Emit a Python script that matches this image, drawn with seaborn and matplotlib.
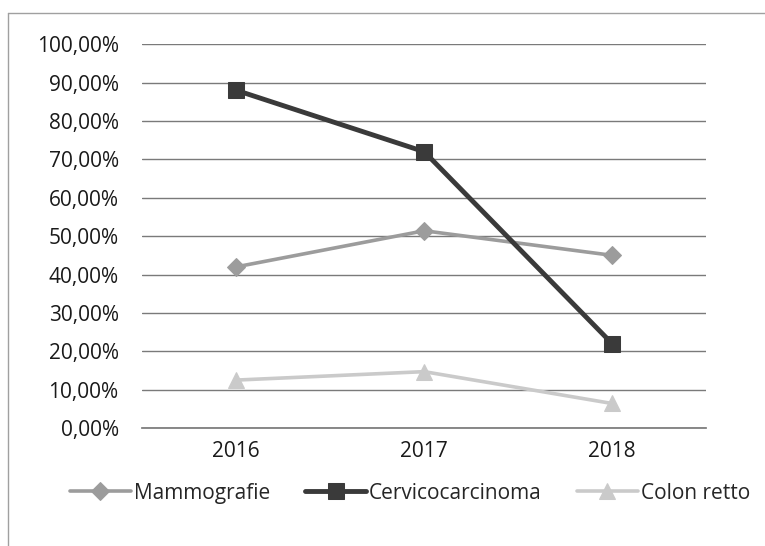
import matplotlib
matplotlib.use('Agg')
import matplotlib.pyplot as plt
import seaborn as sns
import pandas as pd
from matplotlib.lines import Line2D
from matplotlib.ticker import FuncFormatter

years = [2016, 2017, 2018]
mammografie = [0.42, 0.514, 0.45]
cervicocarcinoma = [0.88, 0.72, 0.22]
colon_retto = [0.125, 0.147, 0.064]
series_names = ['Mammografie', 'Cervicocarcinoma', 'Colon retto']
y_ticks = [i / 10 for i in range(11)]

df = pd.DataFrame({
    'anno': years * 3,
    'valore': mammografie + cervicocarcinoma + colon_retto,
    'serie': [s for s in series_names for _ in years],
})

sns.set_theme(style='white')
plt.rcParams['font.family'] = ['Open Sans', 'DejaVu Sans']

fig = plt.figure(figsize=(7.65, 5.46), dpi=100)
ax = fig.add_axes([0.186, 0.216, 0.737, 0.703])

palette = {'Mammografie': '#9c9c9c', 'Cervicocarcinoma': '#3a3a3a', 'Colon retto': '#cacaca'}
markers = {'Mammografie': 'D', 'Cervicocarcinoma': 's', 'Colon retto': '^'}
widths = {'Mammografie': 2.6, 'Cervicocarcinoma': 3.5, 'Colon retto': 2.6}
msizes = {'Mammografie': 9, 'Cervicocarcinoma': 11.5, 'Colon retto': 11}

for name in series_names:
    sub = df[df['serie'] == name]
    sns.lineplot(data=sub, x='anno', y='valore', ax=ax, color=palette[name],
                 marker=markers[name], markersize=msizes[name],
                 markeredgecolor=palette[name], linewidth=widths[name], label=name)

ax.set_xlim(2015.5, 2018.5)
ax.set_ylim(0, 1)
ax.set_yticks(y_ticks)
ax.yaxis.set_major_formatter(FuncFormatter(lambda v, p: f'{v * 100:.2f}%'.replace('.', ',')))
ax.set_xticks(years)
ax.set_xticklabels([str(y) for y in years])
ax.set_xlabel('')
ax.set_ylabel('')
ax.grid(axis='y', color='#7a7a7a', linewidth=1.0)
ax.grid(axis='x', visible=False)
for side in ['top', 'right', 'left']:
    ax.spines[side].set_visible(False)
ax.spines['bottom'].set_color('#7a7a7a')
ax.tick_params(axis='both', labelsize=15, colors='#1a1a1a', length=0)
ax.tick_params(axis='x', pad=9)
ax.tick_params(axis='y', pad=17)

handles, labels = ax.get_legend_handles_labels()
ax.get_legend().remove()
fig.legend(handles, labels, loc='center', bbox_to_anchor=(0.536, 0.097), ncol=3,
           frameon=False, fontsize=15, handlelength=2.9, handletextpad=0.15,
           columnspacing=1.7)

# scanned chart frame: only left and top edges visible
fig.lines.append(Line2D([0.011, 0.011], [0.0, 0.976], transform=fig.transFigure,
                        color='#a0a0a0', linewidth=1.0))
fig.lines.append(Line2D([0.011, 1.0], [0.976, 0.976], transform=fig.transFigure,
                        color='#a0a0a0', linewidth=1.0))

fig.savefig('out.png', dpi=100)
